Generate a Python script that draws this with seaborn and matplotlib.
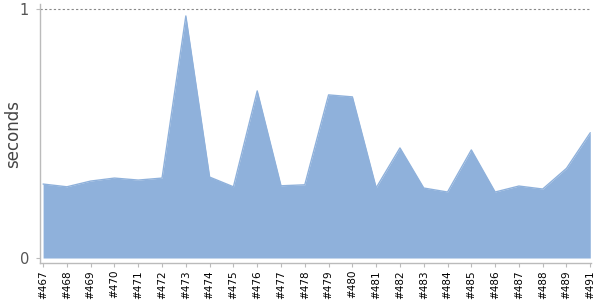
import matplotlib
matplotlib.use("Agg")
import matplotlib.pyplot as plt
import seaborn as sns
import pandas as pd
import numpy as np

builds = ["#467", "#468", "#469", "#470", "#471", "#472", "#473", "#474", "#475", "#476",
          "#477", "#478", "#479", "#480", "#481", "#482", "#483", "#484", "#485", "#486",
          "#487", "#488", "#489", "#491"]
seconds = [0.297, 0.286, 0.309, 0.321, 0.313, 0.321, 0.972, 0.325, 0.286, 0.671,
           0.290, 0.294, 0.655, 0.647, 0.282, 0.442, 0.281, 0.265, 0.434, 0.265,
           0.289, 0.277, 0.360, 0.503]

sns.set_style("white")
plt.rcParams['font.family'] = ['DejaVu Sans']

df = pd.DataFrame({"build": builds, "seconds": seconds, "pos": np.arange(len(builds))})

fig = plt.figure(figsize=(6, 3), dpi=100)
ax = fig.add_axes([40/600, 1 - 263/300, 551/600, 259/300])

fill = "#8fb1db"
ax.fill_between(df["pos"], 0, df["seconds"], color=fill, linewidth=0)
sns.lineplot(data=df, x="pos", y="seconds", ax=ax, color=fill, linewidth=1.0)

ax.axhline(1, color="#888888", linestyle=(0, (2, 2)), linewidth=0.8)

ax.set_xlim(-0.13, 23.03)
ax.set_ylim(-0.02, 1.02)
ax.set_xticks(df["pos"])
ax.set_xticklabels(builds, rotation=90, fontsize=7.5, color="black")
ax.set_yticks([0, 1])
ax.set_yticklabels(["0", "1"], fontsize=10.5, color="#555555")
ax.set_xlabel("")
ax.set_ylabel("seconds", fontsize=12, color="#444444")
ax.yaxis.set_label_coords(-18/551, 0.5)

for s in ["top", "right"]:
    ax.spines[s].set_visible(False)
for s in ["left", "bottom"]:
    ax.spines[s].set_color("#bbbbbb")
    ax.spines[s].set_linewidth(1.0)
ax.tick_params(axis="both", which="both", length=3, width=0.8, color="#bbbbbb", pad=2,
               bottom=True, left=True)
ax.tick_params(axis="y", pad=5)

fig.savefig("out.png", dpi=100)
